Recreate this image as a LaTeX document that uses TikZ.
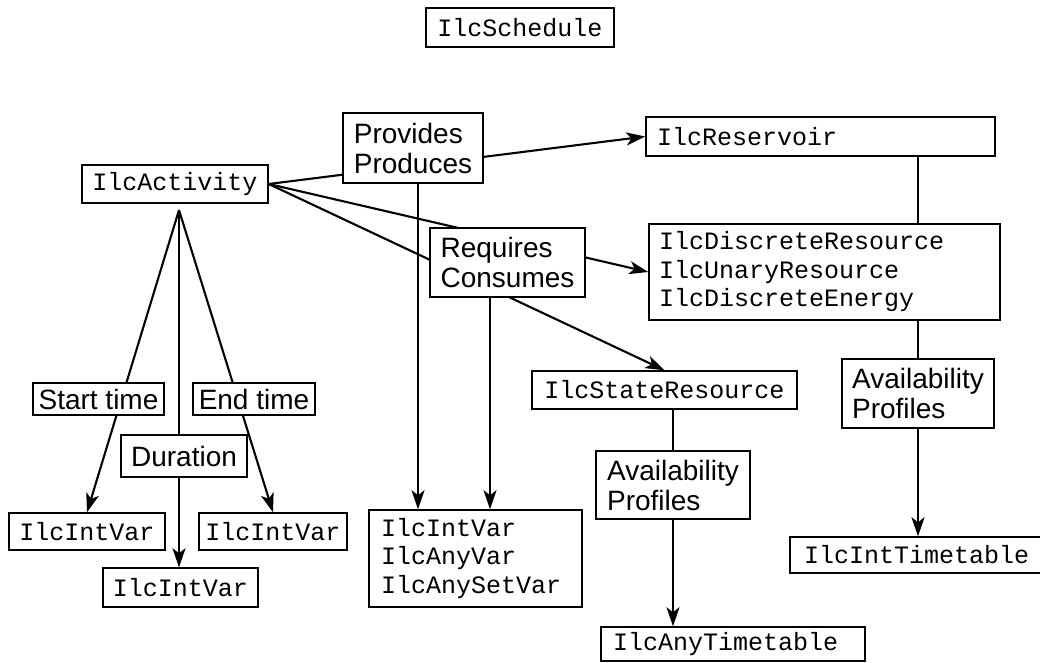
\documentclass[tikz,border=0pt]{standalone}
\usepackage{fontspec}
\setmainfont{Liberation Sans}
\setmonofont{Liberation Mono}
\usetikzlibrary{arrows.meta}
\tikzstyle{cls}=[
        draw, line width=1.5pt, inner sep=0pt,
        font=\ttfamily\fontsize{25}{28.5}\selectfont
]
\tikzstyle{rel}=[
        draw, fill=white, line width=1.6pt, inner sep=0pt, align=left,
        font=\fontsize{28}{30}\selectfont
]
\tikzstyle{link}=[line width=2.1pt]
\tikzstyle{arr}=[link, -{Stealth[length=19pt,width=13pt,inset=5pt]}]

\begin{document}
\begin{tikzpicture}[x=1pt,y=-1pt]
                        \useasboundingbox (0,0) rectangle (1040,662);

                        % classes
                        \node[cls, minimum width=188pt, minimum height=39pt] (sched) at (520,27.5) {IlcSchedule};
                        \node[cls, minimum width=186pt, minimum height=38pt] (act) at (175,184) {IlcActivity};
                        \node[cls, align=left, inner xsep=11pt, text width=327pt, minimum height=39pt] (res) at (820.5,136.5) {IlcReservoir};
                        \node[cls, align=left, inner xsep=10pt, text width=331pt, minimum height=96pt] (dis) at (824.5,272) {IlcDiscreteResource\\IlcUnaryResource\\IlcDiscreteEnergy};
                        \node[cls, minimum width=265pt, minimum height=38pt] (state) at (664.5,390) {IlcStateResource};
                        \node[cls, minimum width=156pt, minimum height=37pt] (iv1) at (87,531.5) {IlcIntVar};
                        \node[cls, minimum width=155pt, minimum height=39pt] (iv2) at (180.5,587.5) {IlcIntVar};
                        \node[cls, minimum width=148pt, minimum height=37pt] (iv3) at (273,531.5) {IlcIntVar};
                        \node[cls, align=left, inner xsep=12pt, text width=189pt, minimum height=97pt] (vars) at (475.5,558.5) {IlcIntVar\\IlcAnyVar\\IlcAnySetVar};
                        \node[cls, align=left, inner xsep=14pt, text width=232pt, minimum height=36pt] (itt) at (920,555) {IlcIntTimetable};
                        \node[cls, align=left, inner xsep=12pt, text width=240pt, minimum height=34pt] (att) at (733,644) {IlcAnyTimetable};

                        % links out of the activity
                        \coordinate (fan) at (179,210);
                        \draw[arr] (act.east) -- (res.west);
                        \draw[arr] (act.east) -- (dis.west);
                        \draw[arr] (act.east) -- (state.north);
                        \draw[arr] (fan) -- (iv1.north);
                        \draw[arr] (fan) -- (fan |- iv2.north);
                        \draw[arr] (fan) -- (iv3.north);

                        % labels sit on top of the links
                        \node[rel, minimum width=140pt, minimum height=70pt] (prov) at (413,148) {Provides\\Produces};
                        \node[rel, minimum width=155pt, minimum height=69pt] (req) at (507.5,262.5) {Requires\\Consumes};
                        \node[rel, minimum width=131pt, minimum height=32pt] (start) at (98.5,399) {Start time};
                        \node[rel, minimum width=122pt, minimum height=32pt] (end) at (254,399) {End time};
                        \node[rel, minimum width=126pt, minimum height=42pt] (dur) at (184,456) {Duration};
                        \node[rel, minimum width=154pt, minimum height=68pt] (avm) at (673,485) {Availability\\Profiles};
                        \node[rel, minimum width=152pt, minimum height=69pt] (avr) at (918,393.5) {Availability\\Profiles};

                        \coordinate (pv) at ([xshift=5pt]prov.south);
                        \coordinate (rq) at ([xshift=-17.5pt]req.south);
                        \draw[arr] (pv) -- (pv |- vars.north);
                        \draw[arr] (rq) -- (rq |- vars.north);

                        \draw[link] (res.south -| avr) -- (dis.north -| avr);
                        \draw[link] (dis.south -| avr) -- (avr.north);
                        \draw[arr] (avr.south) -- (avr.south |- itt.north);

                        \draw[link] (state.south -| avm) -- (avm.north);
                        \draw[arr] (avm.south) -- (avm.south |- att.north);
                    \end{tikzpicture}
\end{document}
